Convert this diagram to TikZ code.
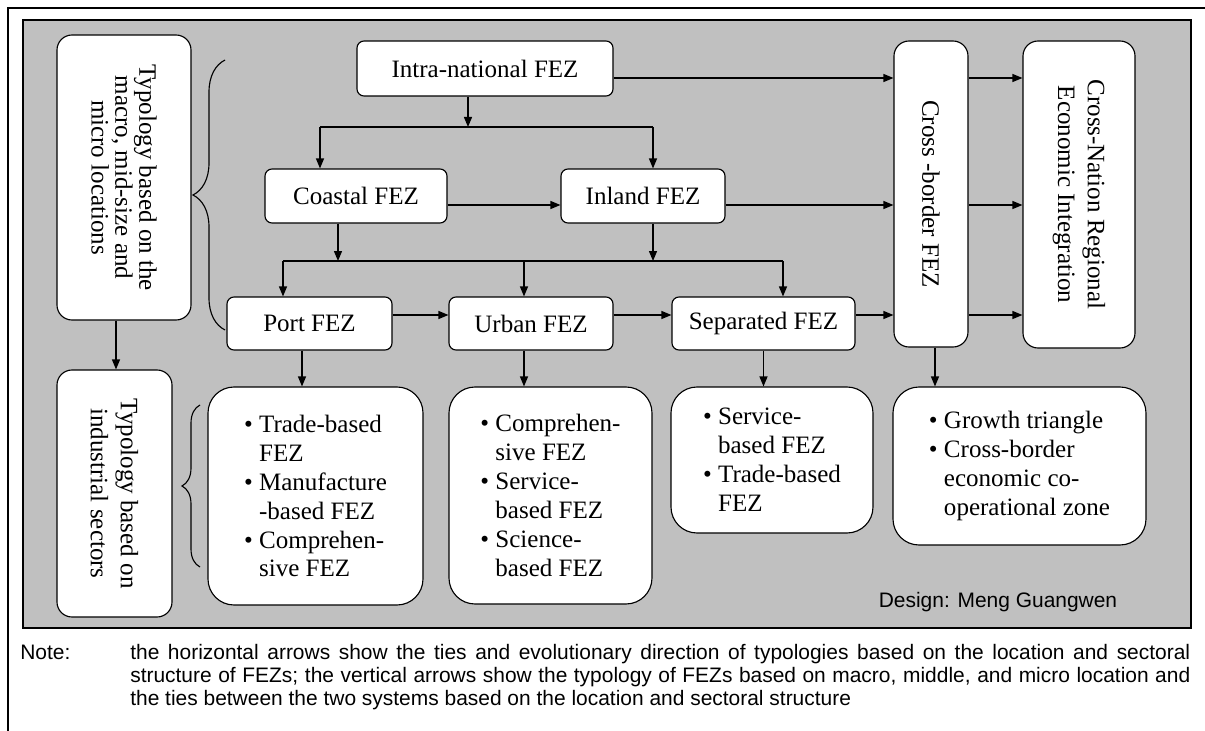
\documentclass[tikz,border=0pt]{standalone}
\usepackage{fontspec}
\setmainfont{Liberation Serif}
\newfontfamily\notefont{Liberation Sans}
\usepackage{xcolor}
\definecolor{panelgray}{HTML}{C0C0C0}
\usepackage{tikz}
\usetikzlibrary{positioning,arrows.meta,calc,decorations.pathreplacing}
\newcommand{\fezbul}{\textbullet\ }
\newcommand{\fezind}{\phantom{\textbullet\ }}

\begin{document}
\begin{tikzpicture}[
  font=\fontsize{17.8}{20.6}\selectfont,
  fez/.style={draw=black, line width=0.8pt, rounded corners=5pt, fill=white, align=center, inner sep=2pt},
  tall/.style={fez, rounded corners=0.375cm, rotate=-90},
  lst/.style={fez, rounded corners=0.65cm, align=left},
  arr/.style={-{Triangle[length=2.5mm,width=2mm]}, line width=0.9pt},
  brc/.style={line width=0.8pt, decorate},
  notetxt/.style={font=\notefont\fontsize{14.9}{16.4}\selectfont, inner sep=0pt},
]
  \useasboundingbox (0,0) rectangle (30.125,-18.275);
  \draw[line width=1.4pt] (0.2,-18.275) -- (0.2,-0.2) -- (30.125,-0.2);
  \draw[fill=panelgray, line width=0.9pt] (0.575,-0.5) rectangle (29.775,-15.7);

  \node[tall, minimum width=7.125cm, minimum height=3.35cm, font=\fontsize{17.8}{17}\selectfont] (typloc) at (3.1,-4.4375) {Typology based on the\\macro, mid-size and\\micro locations};
  \node[tall, minimum width=6.175cm, minimum height=2.875cm, font=\fontsize{17.8}{21.3}\selectfont] (typsec) at (2.8625,-12.3375) {Typology based on\\industrial sectors};
  \node[fez, minimum width=6.4cm, minimum height=1.375cm] (intra) at (12.125,-1.7125) {Intra-national FEZ};
  \node[fez, minimum width=4.55cm, minimum height=1.35cm] (coastal) at (8.9,-4.9) {Coastal FEZ};
  \node[fez, minimum width=4.1cm, minimum height=1.35cm] (inland) at (16.075,-4.9) {Inland FEZ};
  \node[fez, minimum width=4.125cm, minimum height=1.325cm] (port) at (7.7375,-8.0875) {Port FEZ};
  \node[fez, minimum width=4.1cm, minimum height=1.325cm] (urban) at (13.275,-8.0875) {Urban FEZ};
  \node[fez, minimum width=4.575cm, minimum height=1.325cm] (sep) at (19.0875,-8.0875) {Separated FEZ};
  \node[tall, minimum width=7.65cm, minimum height=1.85cm] (xborder) at (23.275,-4.85) {Cross -border FEZ};
  \node[tall, minimum width=7.675cm, minimum height=2.8cm, font=\fontsize{17.8}{21.3}\selectfont] (xnation) at (26.975,-4.8625) {Cross-Nation Regional\\Economic Integration};
  \node[lst, minimum width=5.375cm, minimum height=5.45cm] (portlist) at (7.8875,-12.4) {\fezbul Trade-based\\\fezind FEZ\\\fezbul Manufacture\\\fezind -based FEZ\\\fezbul Comprehen-\\\fezind sive FEZ};
  \node[lst, minimum width=5.075cm, minimum height=5.425cm] (urbanlist) at (13.7625,-12.3875) {\fezbul Comprehen-\\\fezind sive FEZ\\\fezbul Service-\\\fezind based FEZ\\\fezbul Science-\\\fezind based FEZ};
  \node[lst, minimum width=5.05cm, minimum height=3.65cm] (seplist) at (19.3,-11.5) {\fezbul Service-\\\fezind based FEZ\\\fezbul Trade-based\\\fezind FEZ};
  \node[lst, minimum width=6.325cm, minimum height=3.95cm] (growth) at (25.4875,-11.65) {\fezbul Growth triangle\\\fezbul Cross-border\\\fezind economic co-\\\fezind operational zone};

  \node[notetxt] (design) at (24.95,-15.05) {Design: Meng Guangwen};
  \node[notetxt, anchor=base west] (notelab) at (0.5,-16.475) {Note:};
  \node[notetxt, anchor=base west, text width=26.5cm, align=justify] (notebody) at (3.25,-16.475) {the horizontal arrows show the ties and evolutionary direction of typologies based on the location and sectoral\linebreak structure of FEZs; the vertical arrows show the typology of FEZs based on macro, middle, and micro location and\linebreak the ties between the two systems based on the location and sectoral structure};

  \coordinate (splitAl) at (8.0,-3.175);
  \coordinate (splitAr) at (16.325,-3.175);
  \coordinate (splitBl) at (7.075,-6.525);
  \coordinate (splitBr) at (19.575,-6.525);
  \coordinate (laneA) at ([yshift=-0.2375cm]intra.east);
  \coordinate (laneB) at ([yshift=-0.225cm]coastal.east);
  \coordinate (laneC) at ([yshift=0.2125cm]port.east);

  \draw[arr] ([xshift=-0.425cm]intra.south) -- ([xshift=-0.425cm]intra.south |- splitAl);
  \draw[line width=0.9pt] (splitAl) -- (splitAr);
  \draw[arr] (splitAl) -- (splitAl |- coastal.north);
  \draw[arr] (splitAr) -- (splitAr |- inland.north);
  \draw[arr] ([xshift=-0.45cm]coastal.south) -- ([xshift=-0.45cm]coastal.south |- splitBl);
  \draw[arr] ([xshift=0.25cm]inland.south) -- ([xshift=0.25cm]inland.south |- splitBl);
  \draw[line width=0.9pt] (splitBl) -- (splitBr);
  \draw[arr] (splitBl) -- (splitBl |- port.north);
  \draw[arr] ([xshift=-0.175cm]urban.north |- splitBl) -- ([xshift=-0.175cm]urban.north);
  \draw[arr] (splitBr) -- (splitBr |- sep.north);

  \draw[arr] (laneA) -- (laneA -| xborder.south);
  \draw[arr] (laneA -| xborder.north) -- (laneA -| xnation.south);
  \draw[arr] (laneB) -- (laneB -| inland.west);
  \draw[arr] (laneB -| inland.east) -- (laneB -| xborder.south);
  \draw[arr] (laneB -| xborder.north) -- (laneB -| xnation.south);
  \draw[arr] (laneC) -- (laneC -| urban.west);
  \draw[arr] (laneC -| urban.east) -- (laneC -| sep.west);
  \draw[arr] (laneC -| sep.east) -- (laneC -| xborder.south);
  \draw[arr] (laneC -| xborder.north) -- (laneC -| xnation.south);

  \draw[arr] ([xshift=-0.2cm]typloc.east) -- ([xshift=-0.2cm]typloc.east |- typsec.west);
  \draw[arr] ([xshift=-0.1875cm]port.south) -- ([xshift=-0.1875cm]port.south |- portlist.north);
  \draw[arr] ([xshift=-0.175cm]urban.south) -- ([xshift=-0.175cm]urban.south |- urbanlist.north);
  \draw[arr] (sep.south) -- (sep.south |- seplist.north);
  \draw[arr] ([xshift=0.1cm]xborder.east) -- ([xshift=0.1cm]xborder.east |- growth.north);

  \draw[brc, decoration={brace, amplitude=0.8cm}] (5.625,-8.25) -- (5.625,-1.5);
  \draw[brc, decoration={brace, amplitude=0.45cm}] (5.0,-14.175) -- (5.0,-10.125);
\end{tikzpicture}
\end{document}
